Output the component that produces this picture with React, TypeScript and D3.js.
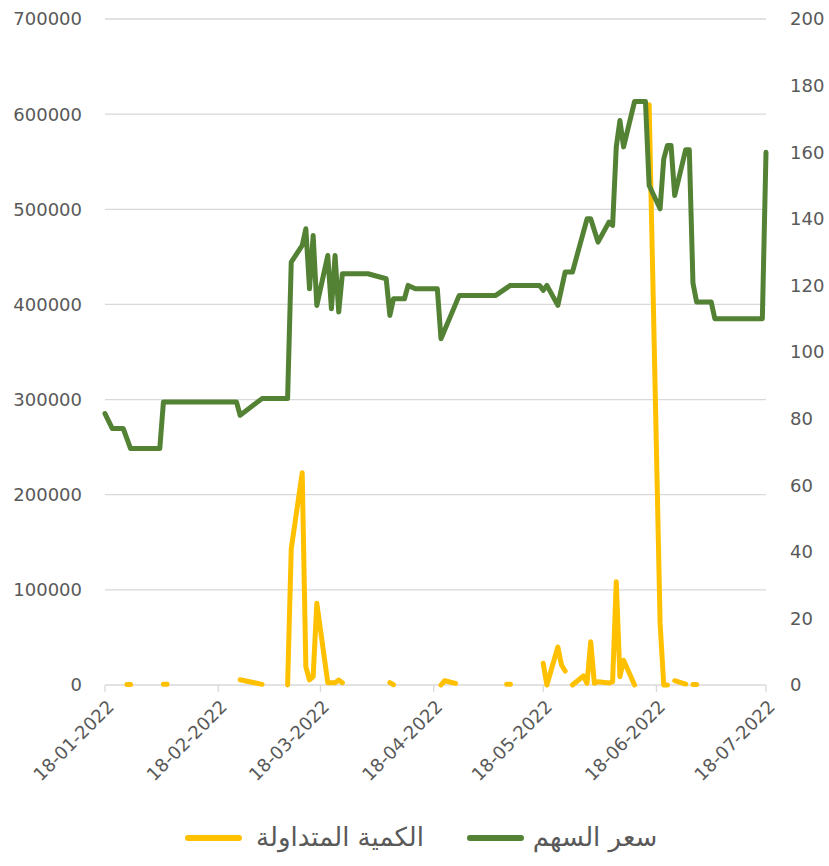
import * as d3 from 'd3';

// سعر السهم (right axis)
const PRICE_DATES = [
  '2022-01-18', '2022-01-20', '2022-01-23', '2022-01-25', '2022-02-02', '2022-02-03',
  '2022-02-23', '2022-02-24', '2022-03-02', '2022-03-09', '2022-03-10', '2022-03-13',
  '2022-03-14', '2022-03-15', '2022-03-16', '2022-03-17', '2022-03-20', '2022-03-21',
  '2022-03-22', '2022-03-23', '2022-03-24', '2022-03-31', '2022-04-03', '2022-04-05',
  '2022-04-06', '2022-04-07', '2022-04-10', '2022-04-11', '2022-04-13', '2022-04-19',
  '2022-04-20', '2022-04-25', '2022-05-05', '2022-05-09', '2022-05-17', '2022-05-18',
  '2022-05-19', '2022-05-22', '2022-05-24', '2022-05-26', '2022-05-30', '2022-05-31',
  '2022-06-02', '2022-06-05', '2022-06-06', '2022-06-07', '2022-06-08', '2022-06-09',
  '2022-06-12', '2022-06-15', '2022-06-16', '2022-06-19', '2022-06-20', '2022-06-21',
  '2022-06-22', '2022-06-23', '2022-06-26', '2022-06-27', '2022-06-28', '2022-06-29',
  '2022-07-03', '2022-07-04', '2022-07-17', '2022-07-18',
];
const PRICE_VALUES = [
  81.5, 77, 77, 71, 71, 85,
  85, 81, 86, 86, 127, 132,
  137, 119, 135, 114, 129, 113,
  129, 112, 123.5, 123.5, 122.6, 122,
  111, 116, 116, 120, 119, 119,
  104, 117, 117, 120, 120, 118.5,
  120, 114, 124, 124, 140, 140,
  133, 139, 138, 161.6, 169.5, 161.6,
  175.2, 175.2, 150, 143, 158, 162,
  162, 147, 160.7, 160.7, 120.7, 115,
  115, 110, 110, 160,
];

// الكمية المتداولة (left axis), null = no trading, line breaks
const VOLUME_DATES = [
  '2022-01-24', '2022-01-25', '2022-01-26',
  '2022-02-03', '2022-02-04', '2022-02-05',
  '2022-02-24', '2022-03-02', '2022-03-03',
  '2022-03-09', '2022-03-10', '2022-03-13', '2022-03-14', '2022-03-15', '2022-03-16',
  '2022-03-17', '2022-03-20', '2022-03-22', '2022-03-23', '2022-03-24', '2022-03-25',
  '2022-04-06', '2022-04-07', '2022-04-08',
  '2022-04-20', '2022-04-21', '2022-04-24', '2022-04-25',
  '2022-05-08', '2022-05-09', '2022-05-10',
  '2022-05-18', '2022-05-19', '2022-05-22', '2022-05-23', '2022-05-24', '2022-05-25',
  '2022-05-26', '2022-05-29', '2022-05-30', '2022-05-31', '2022-06-01', '2022-06-02',
  '2022-06-05', '2022-06-06', '2022-06-07', '2022-06-08', '2022-06-09', '2022-06-12',
  '2022-06-13',
  '2022-06-16', '2022-06-19', '2022-06-20', '2022-06-21', '2022-06-22',
  '2022-06-23', '2022-06-26', '2022-06-27',
  '2022-06-28', '2022-06-29',
];
const VOLUME_VALUES: (number | null)[] = [
  500, 500, null,
  800, 800, null,
  5500, 700, null,
  0, 143000, 223000, 19000, 5300, 8700,
  86000, 2400, 2400, 5300, 2400, null,
  2500, 300, null,
  0, 4500, 1700, null,
  800, 800, null,
  22800, 0, 40000, 21000, 14700, null,
  0, 9500, 1800, 45500, 1800, 3500,
  2000, 3500, 108600, 8700, 26000, 0,
  null,
  610000, 65000, 0, 0, null,
  4500, 1000, null,
  500, 500,
];

const X_TICKS = ['2022-01-18', '2022-02-18', '2022-03-18', '2022-04-18', '2022-05-18', '2022-06-18', '2022-07-18'];
const LEFT_TICKS = [0, 100000, 200000, 300000, 400000, 500000, 600000, 700000];
const RIGHT_TICKS = [0, 20, 40, 60, 80, 100, 120, 140, 160, 180, 200];

const PRICE_LABEL = 'سعر السهم';
const VOLUME_LABEL = 'الكمية المتداولة';

const GREEN = '#548235';
const YELLOW = '#FFC000';
const GRID = '#d9d9d9';
const TEXT = '#595959';
const FONT = '"DejaVu Sans", sans-serif';

const parse = d3.timeParse('%Y-%m-%d');
const fmt = d3.timeFormat('%d-%m-%Y');

export default function App() {
  const W = 829;
  const H = 866;
  const left = 105;
  const right = 766;
  const top = 19;
  const bottom = 685;

  const x = d3.scaleTime()
    .domain([parse('2022-01-18') as Date, parse('2022-07-18') as Date])
    .range([left, right]);
  const yL = d3.scaleLinear().domain([0, 700000]).range([bottom, top]);
  const yR = d3.scaleLinear().domain([0, 200]).range([bottom, top]);

  const price = PRICE_DATES.map((d, i) => ({ date: parse(d) as Date, v: PRICE_VALUES[i] }));
  const volume = VOLUME_DATES.map((d, i) => ({ date: parse(d) as Date, v: VOLUME_VALUES[i] }));

  const priceLine = d3.line<{ date: Date; v: number }>()
    .x(d => x(d.date))
    .y(d => yR(d.v));
  const volumeLine = d3.line<{ date: Date; v: number | null }>()
    .defined(d => d.v !== null)
    .x(d => x(d.date))
    .y(d => yL(d.v as number));

  return (
    <svg width={W} height={H} style={{ position: 'absolute', left: 0, top: 0, background: '#fff' }}>
      {LEFT_TICKS.map(t => (
        <line key={'g' + t} x1={left} x2={right} y1={yL(t)} y2={yL(t)} stroke={GRID} strokeWidth={1.3} />
      ))}
      {X_TICKS.map(t => {
        const px = x(parse(t) as Date);
        return <line key={'t' + t} x1={px} x2={px} y1={bottom} y2={bottom + 7} stroke={GRID} strokeWidth={1.3} />;
      })}

      {LEFT_TICKS.map(t => (
        <text key={'l' + t} x={82} y={yL(t)} dy="0.36em" textAnchor="end" fontFamily={FONT} fontSize={18} fill={TEXT}>
          {t}
        </text>
      ))}
      {RIGHT_TICKS.map(t => (
        <text key={'r' + t} x={790} y={yR(t)} dy="0.36em" textAnchor="start" fontFamily={FONT} fontSize={18} fill={TEXT}>
          {t}
        </text>
      ))}
      {X_TICKS.map(t => {
        const px = x(parse(t) as Date);
        return (
          <text key={'x' + t} transform={`translate(${px + 10},${bottom + 23}) rotate(-45)`} textAnchor="end"
            fontFamily={FONT} fontSize={18} fill={TEXT}>
            {fmt(parse(t) as Date)}
          </text>
        );
      })}

      <path d={volumeLine(volume) || ''} fill="none" stroke={YELLOW} strokeWidth={5}
        strokeLinejoin="round" strokeLinecap="round" />
      <path d={priceLine(price) || ''} fill="none" stroke={GREEN} strokeWidth={5}
        strokeLinejoin="round" strokeLinecap="round" />

      {/* legend */}
      <line x1={470} x2={521} y1={838} y2={838} stroke={GREEN} strokeWidth={6} strokeLinecap="round" />
      <text x={595} y={838} dy="0.3em" textAnchor="middle" fontFamily={FONT} fontSize={26} fill={TEXT}>
        {PRICE_LABEL}
      </text>
      <line x1={188} x2={239} y1={838} y2={838} stroke={YELLOW} strokeWidth={6} strokeLinecap="round" />
      <text x={340} y={838} dy="0.3em" textAnchor="middle" fontFamily={FONT} fontSize={26} fill={TEXT}>
        {VOLUME_LABEL}
      </text>
    </svg>
  );
}
